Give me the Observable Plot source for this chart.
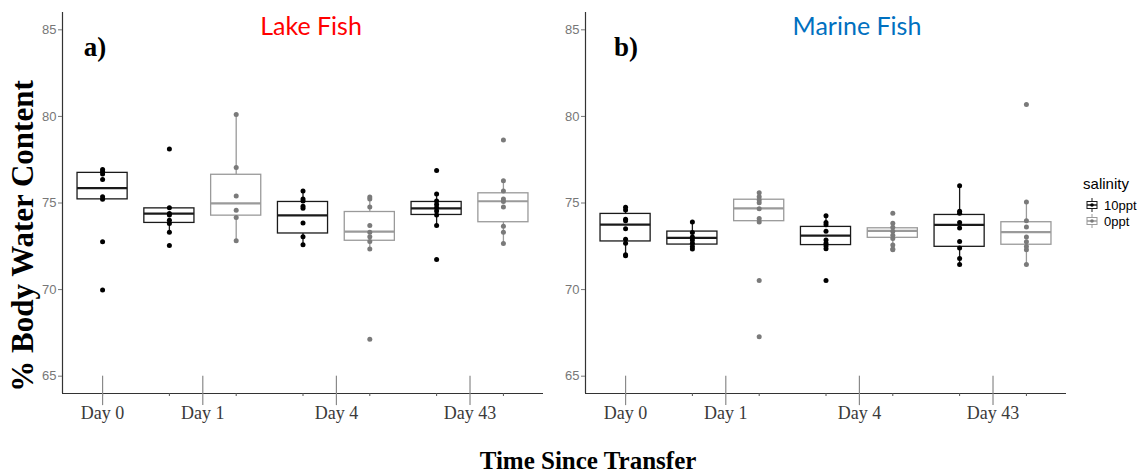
<!DOCTYPE html>
<html><head><meta charset="utf-8">
<script src="https://cdn.jsdelivr.net/npm/d3@7"></script>
<script src="https://cdn.jsdelivr.net/npm/@observablehq/plot@0.6"></script>
<style>
body{margin:0;background:#fff;}
#wrap{position:relative;width:1148px;height:475px;overflow:hidden;background:#fff;}
.abs{position:absolute;white-space:nowrap;line-height:1;transform:translate(-50%,-50%);}
.plot{position:absolute;top:0;}
</style></head><body><div id="wrap"></div>
<script>
// ---- categories ----
const groupDay = ["Day 0", "Day 1", "Day 1", "Day 4", "Day 4", "Day 43", "Day 43"];
const groupSalinity = ["10ppt", "10ppt", "0ppt", "10ppt", "0ppt", "10ppt", "0ppt"];
const dayLabels = ["Day 0", "Day 1", "Day 4", "Day 43"];
const salinityLevels = ["10ppt", "0ppt"];
const yTicks = [65, 70, 75, 80, 85];
const panelTitles = ["Lake Fish", "Marine Fish"];
const panelTags = ["a)", "b)"];

// ---- Lake fish: box statistics ----
const lakeQ1  = [75.21, 73.85, 74.27, 73.24, 72.82, 74.31, 73.89];
const lakeMed = [75.86, 74.39, 74.98, 74.29, 73.35, 74.69, 75.10];
const lakeQ3  = [76.74, 74.69, 76.63, 75.06, 74.48, 75.06, 75.56];
const lakeLo  = [75.21, 73.31, 72.82, 72.59, 72.34, 73.70, 72.66];
const lakeHi  = [76.94, 74.73, 80.11, 75.69, 75.34, 75.52, 76.28];
const lakePoints = [
  [76.94, 76.82, 76.67, 76.36, 75.36, 75.21, 72.76, 69.98],
  [78.12, 74.73, 74.39, 74.31, 74.00, 73.81, 73.31, 72.55],
  [80.11, 77.05, 75.40, 74.58, 74.16, 72.82],
  [75.69, 75.23, 75.11, 74.81, 74.69, 73.85, 73.05, 72.59],
  [75.34, 75.23, 74.77, 73.70, 73.31, 73.05, 72.78, 72.34, 67.13],
  [76.88, 75.52, 75.11, 74.92, 74.73, 74.54, 74.31, 73.70, 71.74],
  [78.64, 76.28, 75.69, 75.23, 75.08, 74.77, 73.66, 73.31, 72.66]
];

// ---- Marine fish: box statistics ----
const marineQ1  = [72.78, 72.60, 73.95, 72.57, 72.99, 72.47, 72.59];
const marineMed = [73.75, 72.99, 74.69, 73.12, 73.39, 73.74, 73.32];
const marineQ3  = [74.37, 73.35, 75.19, 73.62, 73.54, 74.31, 73.89];
const marineLo  = [72.01, 72.34, 73.83, 72.36, 72.30, 71.45, 71.45];
const marineHi  = [74.75, 73.91, 75.59, 74.27, 73.83, 75.99, 75.06];
const marinePoints = [
  [74.75, 74.60, 74.06, 73.98, 73.52, 72.91, 72.68, 72.01, 71.95],
  [73.91, 73.29, 73.03, 72.87, 72.68, 72.49, 72.34],
  [75.59, 75.36, 75.17, 75.02, 74.67, 74.10, 73.91, 70.53, 67.28],
  [74.27, 73.87, 73.75, 73.37, 72.86, 72.68, 72.51, 72.36, 70.53],
  [74.41, 73.83, 73.60, 73.37, 73.14, 72.95, 72.57, 72.34, 72.30],
  [75.99, 74.52, 74.41, 73.87, 73.56, 72.78, 72.40, 71.80, 71.45],
  [80.69, 75.06, 73.98, 73.62, 73.03, 72.76, 72.49, 72.30, 71.45]
];

const boxStroke = {"10ppt": "#1a1a1a", "0ppt": "#9a9a9a"};
const dotFill = {"10ppt": "#000000", "0ppt": "#7a7a7a"};
const HW = 0.375;

function panel(q1, med, q3, lo, hi, pts) {
  const boxes = groupDay.map((d, i) => ({i: i + 1, day: d, sal: groupSalinity[i],
    q1: q1[i], med: med[i], q3: q3[i], lo: lo[i], hi: hi[i]}));
  const points = pts.flatMap((arr, i) => arr.map(v => ({i: i + 1, sal: groupSalinity[i], v})));
  const dayPos = dayLabels.map(d => ({label: d, x: d3.mean(boxes.filter(b => b.day === d), b => b.i)}));
  const st = d => boxStroke[d.sal];
  return Plot.plot({
    width: 560, height: 440,
    marginLeft: 62, marginRight: 17, marginTop: 12, marginBottom: 47,
    style: {fontFamily: "'Liberation Sans', Arial, sans-serif", background: "transparent"},
    x: {domain: [0.4, 7.6], axis: null},
    y: {domain: [64, 86], axis: null},
    marks: [
      Plot.ruleX(boxes, {x: "i", y1: "lo", y2: "q1", stroke: st, strokeWidth: 1.3}),
      Plot.ruleX(boxes, {x: "i", y1: "q3", y2: "hi", stroke: st, strokeWidth: 1.3}),
      Plot.rect(boxes, {x1: d => d.i - HW, x2: d => d.i + HW, y1: "q1", y2: "q3", fill: "white", stroke: st, strokeWidth: 1.3}),
      Plot.ruleY(boxes, {y: "med", x1: d => d.i - HW, x2: d => d.i + HW, stroke: st, strokeWidth: 2.2}),
      Plot.dot(points, {x: "i", y: "v", r: 2.5, fill: d => dotFill[d.sal], stroke: "none"}),
      Plot.ruleX([0.4], {stroke: "#333", strokeWidth: 1.2}),
      Plot.ruleY([64], {stroke: "#333", strokeWidth: 1.2}),
      Plot.axisY({ticks: yTicks, tickSize: 4, tickPadding: 2, fontSize: 13, color: "#777"}),
      Plot.axisX({ticks: d3.range(1, 8), tickSize: 3, tickFormat: () => "", stroke: "#555"}),
      Plot.ruleX(dayPos, {x: "x", y1: 65, y2: 63.3, stroke: "#8a8a8a", strokeWidth: 1.2}),
      Plot.text(dayPos, {x: "x", text: "label", frameAnchor: "bottom", dy: 25,
        fontFamily: "'Liberation Serif', 'Times New Roman', serif", fontSize: 18, fill: "#3a3a3a"})
    ]
  });
}

const wrap = document.getElementById("wrap");
const left = panel(lakeQ1, lakeMed, lakeQ3, lakeLo, lakeHi, lakePoints);
left.classList.add("plot"); left.style.left = "0px";
wrap.appendChild(left);
const right = panel(marineQ1, marineMed, marineQ3, marineLo, marineHi, marinePoints);
right.classList.add("plot"); right.style.left = "523px";
wrap.appendChild(right);

function addText(txt, x, y, css) {
  const d = document.createElement("div");
  d.className = "abs";
  d.textContent = txt;
  d.style.left = x + "px"; d.style.top = y + "px";
  Object.assign(d.style, css);
  wrap.appendChild(d);
  return d;
}
const serifBold = {fontFamily: "'Liberation Serif', 'Times New Roman', serif", fontWeight: "bold", color: "#000"};
addText(panelTitles[0], 311, 25, {fontFamily: "Lato, 'Open Sans', sans-serif", fontSize: "25px", color: "#ff0000"});
addText(panelTitles[1], 857, 25, {fontFamily: "Lato, 'Open Sans', sans-serif", fontSize: "25px", color: "#0070c0"});
addText(panelTags[0], 95, 47, Object.assign({fontSize: "27px"}, serifBold));
addText(panelTags[1], 626, 47, Object.assign({fontSize: "27px"}, serifBold));
addText("% Body Water Content", 22, 236, Object.assign({fontSize: "31px", transform: "translate(-50%,-50%) rotate(-90deg)"}, serifBold));
addText("Time Since Transfer", 588, 460, Object.assign({fontSize: "25px"}, serifBold));

// legend
addText("salinity", 1106, 183, {fontFamily: "'Liberation Sans', Arial, sans-serif", fontSize: "15px", color: "#000"});
salinityLevels.forEach((s, k) => {
  const y = 205 + k * 16;
  const svg = d3.create("svg").attr("width", 14).attr("height", 14)
    .style("position", "absolute").style("left", "1085px").style("top", (y - 7) + "px");
  const c = boxStroke[s];
  svg.append("line").attr("x1", 7).attr("x2", 7).attr("y1", 0).attr("y2", 14).attr("stroke", c);
  svg.append("rect").attr("x", 2).attr("y", 3.5).attr("width", 10).attr("height", 7).attr("fill", "white").attr("stroke", c);
  svg.append("line").attr("x1", 2).attr("x2", 12).attr("y1", 7).attr("y2", 7).attr("stroke", c).attr("stroke-width", 1.5);
  svg.append("circle").attr("cx", 7).attr("cy", 7).attr("r", 1.8).attr("fill", dotFill[s]);
  wrap.appendChild(svg.node());
  addText(s, 1104, y, {fontFamily: "'Liberation Sans', Arial, sans-serif", fontSize: "13px", color: "#000", transform: "translate(0,-50%)"});
});
</script></body></html>
